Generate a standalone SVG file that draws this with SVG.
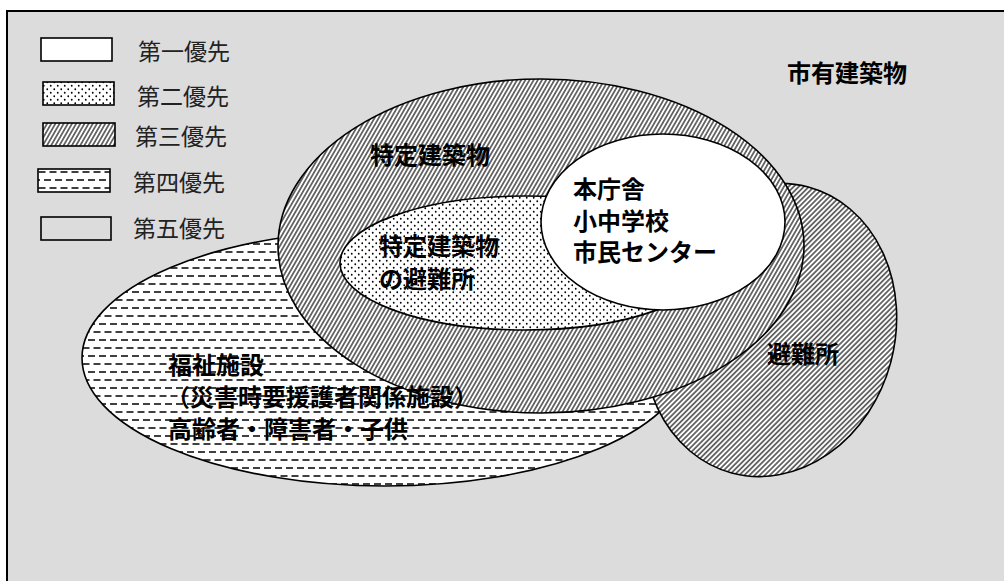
<svg xmlns="http://www.w3.org/2000/svg" width="1004" height="581" viewBox="0 0 1004 581">
<style>
.bg{fill:#dcdcdc;stroke:#000;stroke-width:2}
.shape{stroke:#000;stroke-width:1.6}
.lg{stroke:#000;stroke-width:1.6}
.leg{font-family:"Noto Sans CJK JP","Noto Sans",sans-serif;font-size:23px;fill:#222}
.lbl{font-family:"Noto Sans CJK JP","Noto Sans",sans-serif;font-size:24px;font-weight:bold;fill:#000}
</style>
<defs>
<pattern id="hatch" patternUnits="userSpaceOnUse" width="3.6" height="10" patternTransform="rotate(30)">
<rect width="3.6" height="10" fill="#fff"/>
<line x1="1.8" y1="0" x2="1.8" y2="10" stroke="#000" stroke-width="1.1"/>
</pattern>
<pattern id="dots" patternUnits="userSpaceOnUse" width="7" height="7">
<rect width="7" height="7" fill="#fff"/>
<circle cx="1.75" cy="1.75" r="0.9" fill="#000"/>
<circle cx="5.25" cy="5.25" r="0.9" fill="#000"/>
</pattern>
<pattern id="dash" patternUnits="userSpaceOnUse" width="11" height="16">
<rect width="11" height="16" fill="#fff"/>
<line x1="0" y1="4" x2="7" y2="4" stroke="#000" stroke-width="1.5"/>
<line x1="5.5" y1="12" x2="11" y2="12" stroke="#000" stroke-width="1.5"/>
<line x1="0" y1="12" x2="1.5" y2="12" stroke="#000" stroke-width="1.5"/>
</pattern>
</defs>
<rect width="1004" height="581" fill="#fff"/>
<rect id="frame" class="bg" x="7" y="11" width="1010" height="600"/>

<g id="legend">
<g id="legend-1"><rect class="lg" x="41" y="38" width="71" height="23" fill="#fff"/><text class="leg" x="138" y="60">第一優先</text></g>
<g id="legend-2"><rect class="lg" x="43" y="82" width="71" height="23" fill="url(#dots)"/><text class="leg" x="137" y="105">第二優先</text></g>
<g id="legend-3"><rect class="lg" x="43" y="123" width="72" height="23" fill="url(#hatch)"/><text class="leg" x="135" y="145">第三優先</text></g>
<g id="legend-4"><rect class="lg" x="38" y="169" width="72" height="23" fill="url(#dash)"/><text class="leg" x="133" y="191">第四優先</text></g>
<g id="legend-5"><rect class="lg" x="41" y="217" width="70" height="23" fill="#dcdcdc"/><text class="leg" x="133" y="237">第五優先</text></g>
</g>

<g id="connectors"></g>

<g id="welfare"><ellipse class="shape" cx="385" cy="358" rx="303" ry="128" fill="url(#dash)"/></g>
<g id="shelter"><ellipse class="shape" cx="0" cy="0" rx="125" ry="148" fill="url(#hatch)" transform="translate(770 330) rotate(15)"/></g>
<g id="specific"><ellipse class="shape" cx="541" cy="246" rx="263" ry="167" fill="url(#hatch)"/></g>
<g id="specific-shelter"><ellipse class="shape" cx="525" cy="263" rx="185" ry="67" fill="url(#dots)"/></g>
<g id="first"><ellipse class="shape" cx="663" cy="222" rx="122" ry="88" fill="#fff"/></g>

<g id="labels">
<text class="lbl" x="787" y="82">市有建築物</text>
<text class="lbl" x="370" y="164">特定建築物</text>
<text class="lbl" x="379" y="255">特定建築物</text>
<text class="lbl" x="379" y="288">の避難所</text>
<text class="lbl" x="573" y="198">本庁舎</text>
<text class="lbl" x="573" y="230">小中学校</text>
<text class="lbl" x="573" y="261">市民センター</text>
<text class="lbl" x="767" y="363">避難所</text>
<text class="lbl" x="168" y="374">福祉施設</text>
<text class="lbl" x="166" y="406">（災害時要援護者関係施設）</text>
<text class="lbl" x="168" y="438">高齢者・障害者・子供</text>
</g>
</svg>
